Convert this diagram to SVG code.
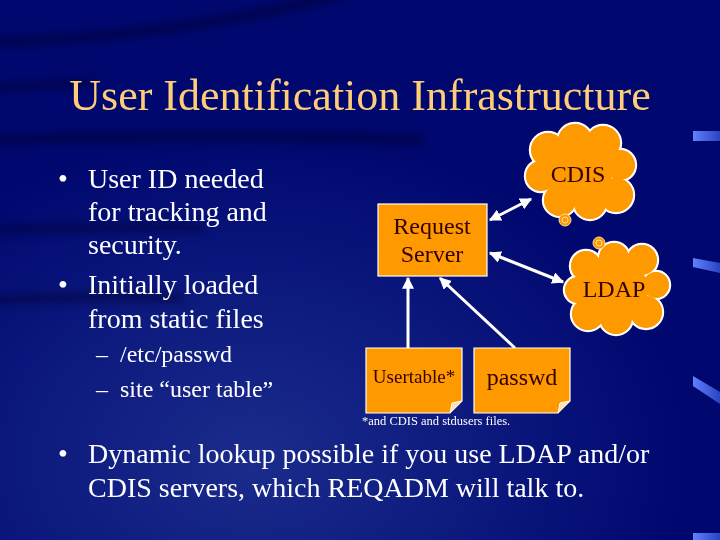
<svg xmlns="http://www.w3.org/2000/svg" width="720" height="540" viewBox="0 0 720 540">
<defs>
<style>
.bul{font-family:"Liberation Serif","Times New Roman",serif;fill:#ffffff;}
.lbl{font-family:"Liberation Serif","Times New Roman",serif;fill:#330000;text-anchor:middle;}
.node{fill:#ff9900;stroke:#ffffff;stroke-width:1.2;}
.conn{stroke:#ffffff;stroke-width:3;fill:none;}
.dash{fill:url(#dg);}
.band{fill:none;stroke:#000030;stroke-linecap:round;opacity:0.55;}
</style>
<linearGradient id="dg" x1="0" y1="0" x2="1" y2="0">
<stop offset="0" stop-color="#5f80ff"/>
<stop offset="1" stop-color="#2a44c0"/>
</linearGradient>
<radialGradient id="bgl" cx="0.35" cy="0.85" r="0.6">
<stop offset="0" stop-color="#1a2c8c"/>
<stop offset="1" stop-color="#1a2c8c" stop-opacity="0"/>
</radialGradient>
<filter id="blur" x="-20%" y="-50%" width="140%" height="200%"><feGaussianBlur stdDeviation="4"/></filter>
<marker id="ah" viewBox="0 0 10 10" refX="9" refY="5" markerWidth="4" markerHeight="4" orient="auto-start-reverse" markerUnits="strokeWidth">
<path d="M0,0 L10,5 L0,10 Z" fill="#ffffff"/>
</marker>
</defs>
<rect width="720" height="540" fill="#000870"/>
<rect width="720" height="540" fill="url(#bgl)"/>
<g filter="url(#blur)">
<path class="band" stroke-width="10" d="M-10,42 C120,40 240,20 340,-5"/>
<path class="band" stroke-width="8" d="M-10,88 C30,86 60,84 90,82"/>
<path class="band" stroke-width="10" d="M-10,140 C120,136 260,134 420,140"/>
<path class="band" stroke-width="8" d="M-10,230 C60,228 140,226 200,228"/>
<path class="band" stroke-width="8" d="M-10,300 C60,298 120,296 180,298"/>
</g>
<rect class="dash" x="693" y="131" width="27" height="10"/>
<polygon class="dash" points="693,258 720,263 720,273 693,267"/>
<polygon class="dash" points="693,376 720,392 720,404 693,386"/>
<rect class="dash" x="693" y="533" width="27" height="7"/>
<text x="360" y="110" font-family="Liberation Serif,Times New Roman,serif" font-size="44" fill="#ffcc77" text-anchor="middle">User Identification Infrastructure</text>
<g class="bul" font-size="28">
<text x="58" y="188">•</text>
<text x="88" y="188">User ID needed</text>
<text x="88" y="221">for tracking and</text>
<text x="88" y="254">security.</text>
<text x="58" y="294">•</text>
<text x="88" y="294">Initially loaded</text>
<text x="88" y="328">from static files</text>
<text x="58" y="463">•</text>
<text x="88" y="463">Dynamic lookup possible if you use LDAP and/or</text>
<text x="88" y="497">CDIS servers, which REQADM will talk to.</text>
</g>
<g class="bul" font-size="24">
<text x="96" y="362">–</text>
<text x="120" y="362">/etc/passwd</text>
<text x="96" y="397">–</text>
<text x="120" y="397">site “user table”</text>
</g>
<g id="connectors">
<line class="conn" x1="490" y1="220" x2="531" y2="199" marker-start="url(#ah)" marker-end="url(#ah)"/>
<line class="conn" x1="490" y1="253" x2="563" y2="282" marker-start="url(#ah)" marker-end="url(#ah)"/>
<line class="conn" x1="408" y1="348" x2="408" y2="278" marker-end="url(#ah)"/>
<line class="conn" x1="515" y1="348" x2="440" y2="278" marker-end="url(#ah)"/>
</g>
<g id="request-server">
<rect class="node" x="378" y="204" width="109" height="72"/>
<text class="lbl" x="432" y="234" font-size="24">Request</text>
<text class="lbl" x="432" y="262" font-size="24">Server</text>
</g>
<g id="cdis">
<g fill="#ff9900" stroke="#ffffff" stroke-width="2.4">
<circle cx="548" cy="150" r="18"/><circle cx="575" cy="141" r="18"/><circle cx="603" cy="143" r="18"/>
<circle cx="620" cy="165" r="16"/><circle cx="616" cy="195" r="18"/><circle cx="590" cy="203" r="17"/>
<circle cx="560" cy="200" r="17"/><circle cx="541" cy="176" r="16"/>
</g>
<g fill="#ff9900">
<circle cx="548" cy="150" r="17"/><circle cx="575" cy="141" r="17"/><circle cx="603" cy="143" r="17"/>
<circle cx="620" cy="165" r="15"/><circle cx="616" cy="195" r="17"/><circle cx="590" cy="203" r="16"/>
<circle cx="560" cy="200" r="16"/><circle cx="541" cy="176" r="15"/><circle cx="580" cy="172" r="32"/>
</g>
<circle cx="565" cy="220" r="6" fill="#ff9900" stroke="#ffe0a0" stroke-width="1"/>
<circle cx="565" cy="220" r="3" fill="none" stroke="#ffe0a0" stroke-width="1"/>
<text class="lbl" x="578" y="182" font-size="24">CDIS</text>
</g>
<g id="ldap">
<g fill="#ff9900" stroke="#ffffff" stroke-width="2.4">
<circle cx="586" cy="266" r="16"/><circle cx="614" cy="258" r="16"/><circle cx="642" cy="260" r="16"/>
<circle cx="656" cy="285" r="14"/><circle cx="646" cy="312" r="17"/><circle cx="616" cy="318" r="17"/>
<circle cx="588" cy="314" r="17"/><circle cx="578" cy="290" r="14"/>
</g>
<g fill="#ff9900">
<circle cx="586" cy="266" r="15"/><circle cx="614" cy="258" r="15"/><circle cx="642" cy="260" r="15"/>
<circle cx="656" cy="285" r="13"/><circle cx="646" cy="312" r="16"/><circle cx="616" cy="318" r="16"/>
<circle cx="588" cy="314" r="16"/><circle cx="578" cy="290" r="13"/><circle cx="616" cy="290" r="32"/>
</g>
<circle cx="599" cy="243" r="6" fill="#ff9900" stroke="#ffe0a0" stroke-width="1"/>
<circle cx="599" cy="243" r="3" fill="none" stroke="#ffe0a0" stroke-width="1"/>
<text class="lbl" x="614" y="297" font-size="24">LDAP</text>
</g>
<g id="usertable">
<path class="node" d="M366,348 H462 V401 L450,413 H366 Z"/>
<path d="M450,413 L452,403 L462,401" fill="#ffe0b0" stroke="#ffffff" stroke-width="1"/>
<text class="lbl" x="414" y="383" font-size="19">Usertable*</text>
</g>
<g id="passwd">
<path class="node" d="M474,348 H570 V401 L558,413 H474 Z"/>
<path d="M558,413 L560,403 L570,401" fill="#ffe0b0" stroke="#ffffff" stroke-width="1"/>
<text class="lbl" x="522" y="385" font-size="24">passwd</text>
</g>
<text x="362" y="425" font-family="Liberation Serif,Times New Roman,serif" font-size="12.5" fill="#ffffff">*and CDIS and stdusers files.</text>
</svg>
